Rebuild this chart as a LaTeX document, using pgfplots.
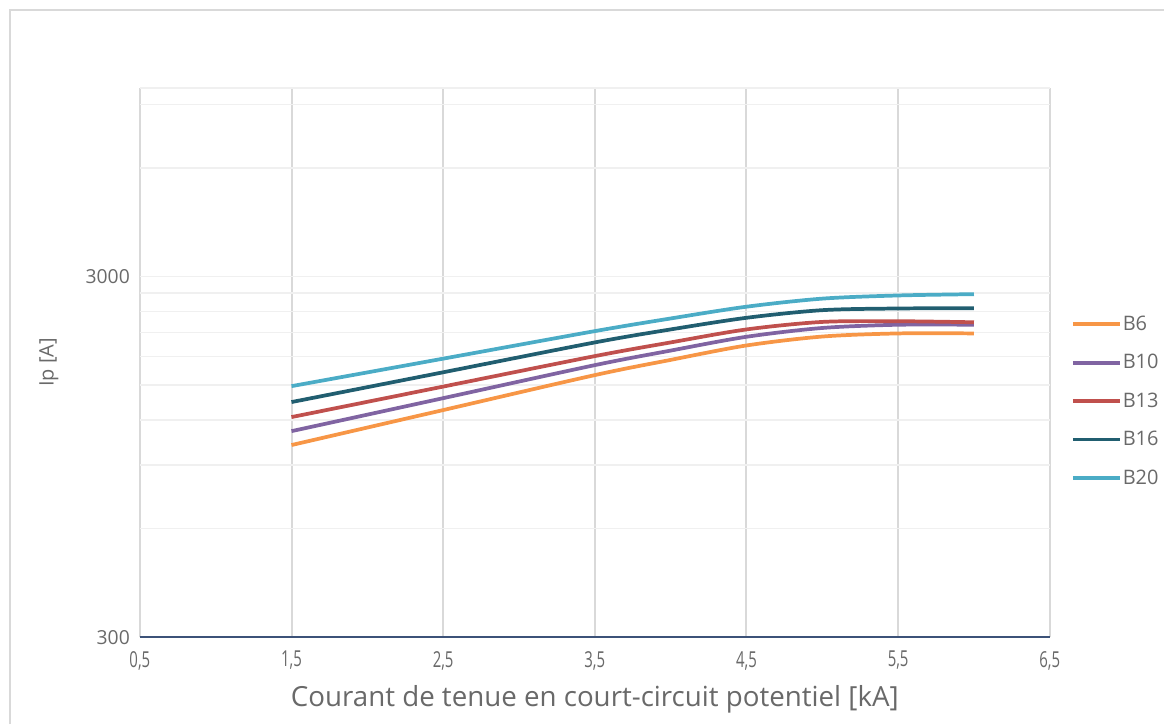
\documentclass[border=0pt]{standalone}
\usepackage{graphicx}
\usepackage{fontspec}
\setmainfont{Open Sans}
\usepackage{pgfplots}
\pgfplotsset{compat=1.18}
\definecolor{cB6}{RGB}{247,150,70}
\definecolor{cB10}{RGB}{128,100,162}
\definecolor{cB13}{RGB}{192,80,77}
\definecolor{cB16}{RGB}{33,94,112}
\definecolor{cB20}{RGB}{75,172,198}
\definecolor{txt}{RGB}{105,105,105}
\definecolor{vgrid}{RGB}{217,217,217}
\definecolor{hgrid}{RGB}{240,240,240}
\definecolor{axisblue}{RGB}{60,82,120}
\newcommand\xt[1]{\scalebox{0.68}[1]{#1}}

\begin{document}
\begin{tikzpicture}
% page frame, 1px = 0.75pt
\path (0,0) rectangle (873.75pt,543.75pt);
\draw[vgrid, line width=2pt] (7.5pt,0) -- (7.5pt,536.25pt) -- (873.75pt,536.25pt);
\begin{axis}[
    at={(105pt,65.25pt)}, anchor=south west,
    scale only axis,
    width=683.25pt, height=412.5pt,
    ymode=log,
    xmin=0.5, xmax=6.5,
    ymin=300, ymax=10000,
    axis line style={draw=none},
    major tick length=0pt, minor tick length=0pt,
    xtick={0.5,1.5,2.5,3.5,4.5,5.5,6.5},
    xticklabels={\xt{0,5},\xt{1,5},\xt{2,5},\xt{3,5},\xt{4,5},\xt{5,5},\xt{6,5}},
    ytick={300,3000},
    yticklabels={300,3000},
    minor ytick={600,900,1200,1500,1800,2100,2400,2700,6000,9000,10000},
    xmajorgrids, ymajorgrids, yminorgrids,
    x grid style={vgrid, line width=1.5pt},
    major y grid style={hgrid, line width=1pt},
    minor y grid style={hgrid, line width=1pt},
    x tick label style={font=\fontsize{16.5}{19}\selectfont, text=txt, yshift=-7pt},
    y tick label style={font=\fontsize{14.5}{17}\selectfont, text=txt, xshift=-4pt},
    xlabel={Courant de tenue en court-circuit potentiel [kA]},
    ylabel={Ip [A]},
    xlabel style={font=\fontsize{20.8}{24}\selectfont, text=txt, at={(rel axis cs:0.5,-0.1127)}, anchor=center},
    ylabel style={font=\fontsize{15}{18}\selectfont, text=txt, at={(rel axis cs:-0.0999,0.5)}, anchor=center},
    legend style={draw=none, fill=none, at={(rel axis cs:1.0187,0.5925)}, anchor=north west,
        font=\fontsize{15}{18}\selectfont, text=txt, row sep=14.5pt,
        nodes={inner sep=1pt}},
    legend cell align=left,
    legend image code/.code={\draw[#1] (0pt,0pt) -- (35pt,0pt);},
    every axis plot/.append style={line width=2.8pt, smooth, tension=0.5},
    after end axis/.code={\draw[axisblue, line width=1.2pt] (rel axis cs:0,0) -- (rel axis cs:1,0);},
]
\addplot[cB6] coordinates {(1.5,1023) (2.5,1279) (3.5,1599) (4,1762) (4.5,1932) (5,2045) (5.5,2086) (6,2086)};
\addlegendentry{B6}
\addplot[cB10] coordinates {(1.5,1118) (2.5,1380) (3.5,1704) (4,1870) (4.5,2042) (5,2160) (5.5,2205) (6,2205)};
\addlegendentry{B10}
\addplot[cB13] coordinates {(1.5,1223) (2.5,1486) (3.5,1805) (4,1970) (4.5,2140) (5,2245) (5.5,2255) (6,2240)};
\addlegendentry{B13}
\addplot[cB16] coordinates {(1.5,1346) (2.5,1628) (3.5,1970) (4,2140) (4.5,2305) (5,2420) (5.5,2446) (6,2450)};
\addlegendentry{B16}
\addplot[cB20] coordinates {(1.5,1490) (2.5,1776) (3.5,2117) (4,2295) (4.5,2474) (5,2605) (5.5,2658) (6,2680)};
\addlegendentry{B20}
\end{axis}
\end{tikzpicture}
\end{document}
